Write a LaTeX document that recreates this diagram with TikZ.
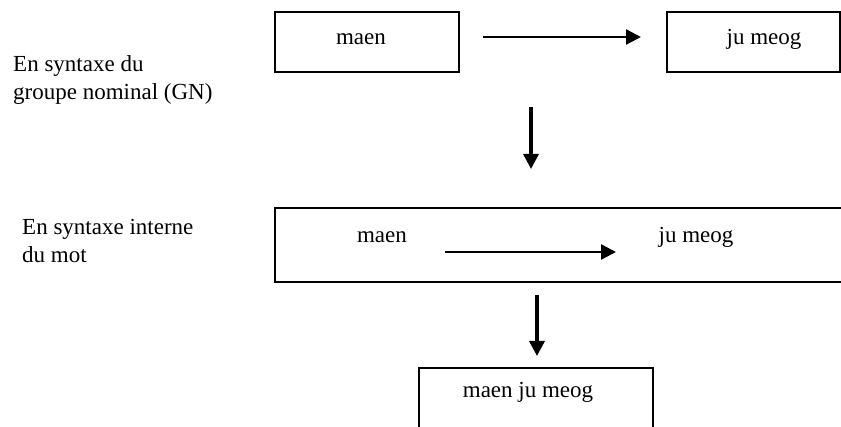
\documentclass[tikz,border=0pt]{standalone}
\usepackage{fontspec}
\setmainfont{Liberation Serif}
\usetikzlibrary{arrows.meta}
\begin{document}
\begin{tikzpicture}[x=1pt,y=-1pt,
  box/.style={draw=black,line width=1.8pt,inner sep=0pt},
  lbl/.style={font=\fontsize{23}{28}\selectfont,inner sep=0pt,anchor=base},
  side/.style={font=\fontsize{23}{28}\selectfont,inner sep=0pt,anchor=base west},
  harrow/.style={line width=2.3pt,-{Triangle[length=15pt,width=15pt]}},
  varrow/.style={line width=3.3pt,-{Triangle[length=15pt,width=15pt]}}]
\useasboundingbox (0,0) rectangle (841,427);
\fill[white] (0,0) rectangle (841,427);
% boxes
\draw[box] (275,12) rectangle (459,72);
\draw[box] (667,12) rectangle (840,72);
\draw[box] (275,208) rectangle (845,282);
\draw[box] (419,368) rectangle (653,432);
% texts
\node[lbl] (a1) at (361,45) {maen};
\node[lbl] (b1) at (764,45) {ju meog};
\node[lbl] (a2) at (382,243) {maen};
\node[lbl] (b2) at (696,243) {ju meog};
\node[lbl] (c3) at (528,398) {maen ju meog};
\node[side] (l1) at (13,72) {En syntaxe du};
\node[side] (l2) at (13,100) {groupe nominal (GN)};
\node[side] (l3) at (22,235) {En syntaxe interne};
\node[side] (l4) at (22,263) {du mot};
% arrow end points
\coordinate (h1s) at (483,37);
\coordinate (h1e) at (641,37);
\coordinate (h2s) at (445,252);
\coordinate (h2e) at (616,252);
\coordinate (v1s) at (531,107);
\coordinate (v1e) at (531,169);
\coordinate (v2s) at (537,295);
\coordinate (v2e) at (537,356);
\draw[harrow] (h1s) -- (h1e);
\draw[harrow] (h2s) -- (h2e);
\draw[varrow] (v1s) -- (v1e);
\draw[varrow] (v2s) -- (v2e);
\end{tikzpicture}
\end{document}
